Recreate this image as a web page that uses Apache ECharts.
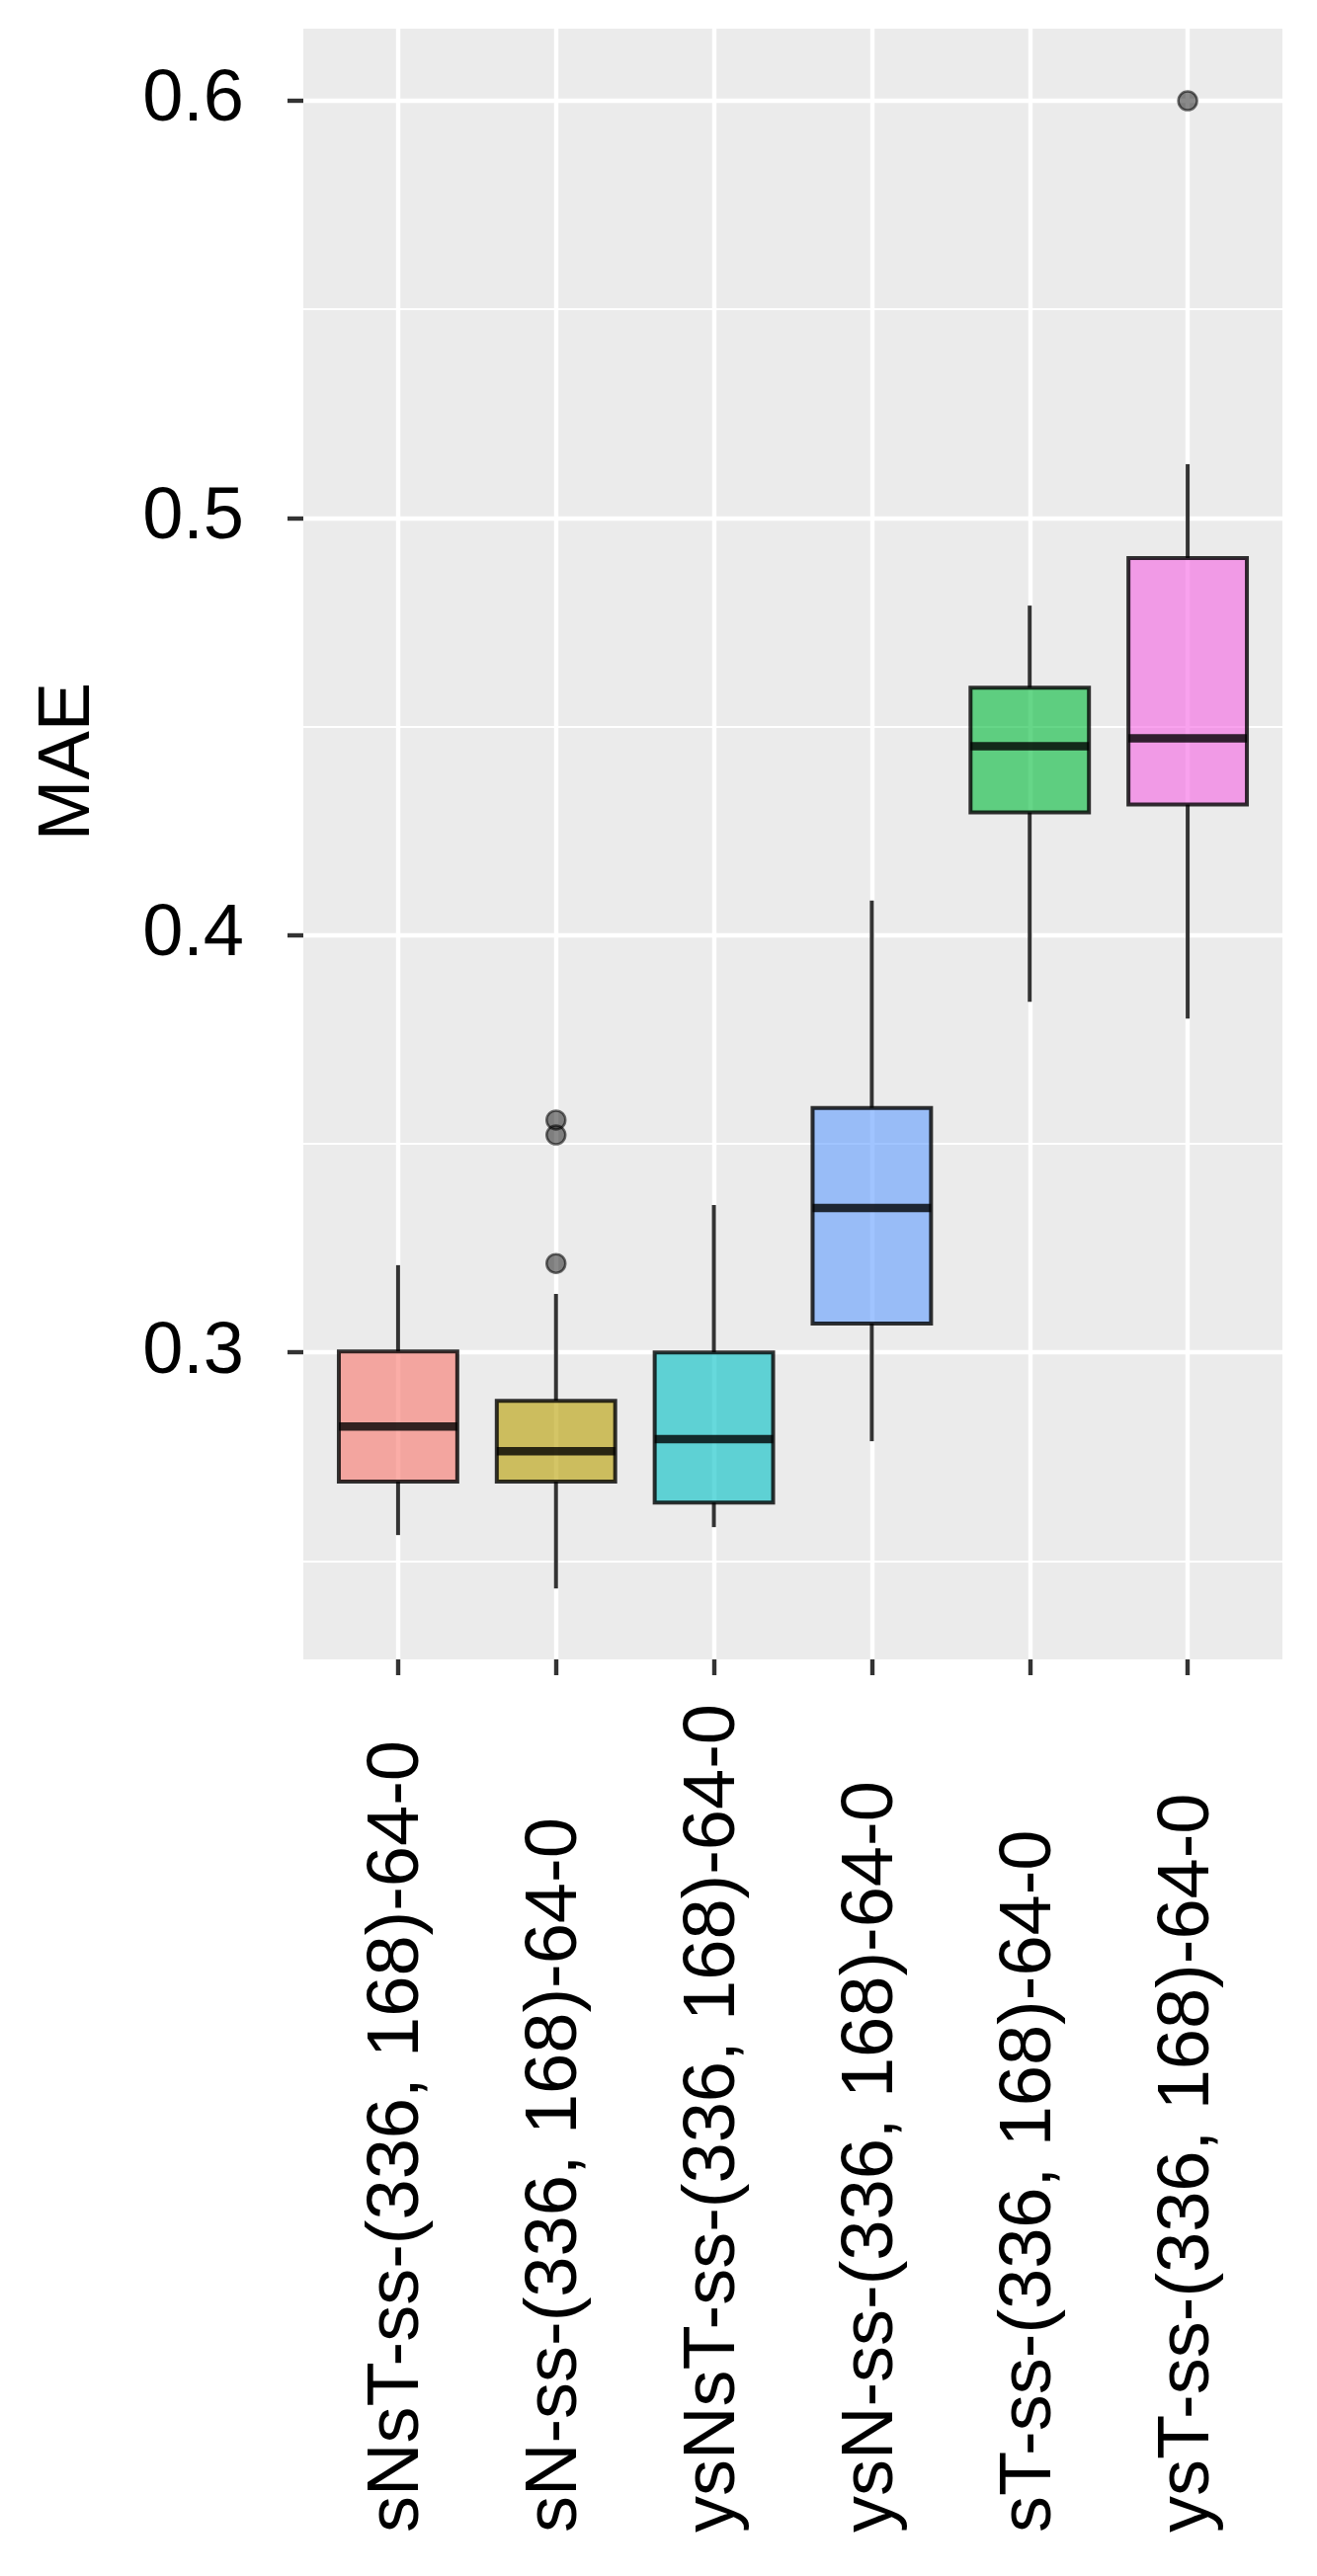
<!DOCTYPE html>
<html>
<head>
<meta charset="utf-8">
<script src="https://cdn.jsdelivr.net/npm/echarts@6/dist/echarts.min.js"></script>
<style>
  html, body { margin: 0; padding: 0; background: #fff; }
  #chart { width: 1333px; height: 2608px; }
</style>
</head>
<body>
<div id="chart"></div>
<script>
// groups, left to right
var categories = [
  'sNsT-ss-(336, 168)-64-0',
  'sN-ss-(336, 168)-64-0',
  'ysNsT-ss-(336, 168)-64-0',
  'ysN-ss-(336, 168)-64-0',
  'sT-ss-(336, 168)-64-0',
  'ysT-ss-(336, 168)-64-0'
];

// box statistics
var whiskerLow  = [0.2562, 0.2434, 0.2581, 0.2787, 0.3840, 0.3800];
var quartile1   = [0.2690, 0.2690, 0.2640, 0.3069, 0.4294, 0.4313];
var medians     = [0.2822, 0.2763, 0.2792, 0.3346, 0.4453, 0.4472];
var quartile3   = [0.3002, 0.2884, 0.3000, 0.3586, 0.4593, 0.4904];
var whiskerHigh = [0.3209, 0.3140, 0.3353, 0.4083, 0.4790, 0.5129];

// outliers: group number (1-based) and value
var outlierGroup = [2, 2, 2, 6];
var outlierValue = [0.3557, 0.3521, 0.3213, 0.6000];

// axis ticks
var yMajor = [0.3, 0.4, 0.5, 0.6];
var yMinor = [0.25, 0.35, 0.45, 0.55];
var xTicks = [1, 2, 3, 4, 5, 6];

// ggplot hue colours in the order they were drawn
var fills = [
  'rgba(248,118,109,0.6)',
  'rgba(183,159,0,0.6)',
  'rgba(0,191,196,0.6)',
  'rgba(97,156,255,0.6)',
  'rgba(0,186,56,0.6)',
  'rgba(245,100,227,0.6)'
];

var FONT = "'Liberation Sans', Arial, sans-serif";
var LINE = 'rgba(0,0,0,0.8)';
var BOX_WIDTH = 0.75;

var boxData = categories.map(function (c, i) {
  return [i + 1, whiskerLow[i], quartile1[i], medians[i], quartile3[i], whiskerHigh[i]];
});
var outlierData = outlierGroup.map(function (g, i) {
  return [g, outlierValue[i]];
});

var chart = echarts.init(document.getElementById('chart'));

var option = {
  backgroundColor: '#fff',
  animation: false,
  grid: {
    left: 307, top: 29, width: 991, height: 1651,
    show: true, backgroundColor: '#EBEBEB', borderWidth: 0
  },
  graphic: [{
    type: 'text',
    x: 70, y: 771,
    rotation: Math.PI / 2,
    style: {
      text: 'MAE', x: 0, y: 0,
      align: 'center', verticalAlign: 'middle',
      font: '74px ' + FONT, fill: '#000'
    }
  }],
  xAxis: {
    type: 'value',
    min: 0.4, max: 6.6,
    axisLine: { show: false },
    axisTick: {
      show: true, length: 16, customValues: xTicks,
      lineStyle: { color: '#333', width: 4.4 }
    },
    axisLabel: {
      customValues: xTicks,
      rotate: 90,
      align: 'left',
      margin: 884,
      fontSize: 74,
      fontFamily: FONT,
      color: '#000',
      formatter: function (v) { return categories[Math.round(v) - 1]; }
    },
    splitLine: { show: true, lineStyle: { color: '#fff', width: 4.4 } }
  },
  yAxis: [{
    type: 'value',
    min: 0.2264, max: 0.6173,
    axisLine: { show: false },
    axisTick: {
      show: true, length: 16, customValues: yMajor,
      lineStyle: { color: '#333', width: 4.4 }
    },
    axisLabel: {
      customValues: yMajor,
      margin: 60,
      fontSize: 74,
      fontFamily: FONT,
      color: '#000',
      formatter: function (v) { return v.toFixed(1); }
    },
    splitLine: { show: true, lineStyle: { color: '#fff', width: 4.4 } }
  }, {
    type: 'value',
    position: 'left',
    min: 0.2264, max: 0.6173,
    axisLine: { show: false },
    axisTick: { show: false, customValues: yMinor },
    axisLabel: { show: false },
    splitLine: { show: true, lineStyle: { color: '#fff', width: 2.2 } }
  }],
  series: [{
    type: 'custom',
    yAxisIndex: 0,
    data: boxData,
    z: 3,
    renderItem: function (params, api) {
      var x = api.value(0);
      var lo = api.coord([x, api.value(1)]);
      var q1 = api.coord([x, api.value(2)]);
      var md = api.coord([x, api.value(3)]);
      var q3 = api.coord([x, api.value(4)]);
      var hi = api.coord([x, api.value(5)]);
      var half = api.size([BOX_WIDTH, 0])[0] / 2;
      return {
        type: 'group',
        children: [
          { type: 'line', shape: { x1: hi[0], y1: hi[1], x2: q3[0], y2: q3[1] },
            style: { stroke: LINE, lineWidth: 4 } },
          { type: 'line', shape: { x1: q1[0], y1: q1[1], x2: lo[0], y2: lo[1] },
            style: { stroke: LINE, lineWidth: 4 } },
          { type: 'rect', shape: { x: q3[0] - half, y: q3[1], width: half * 2, height: q1[1] - q3[1] },
            style: { fill: fills[params.dataIndex], stroke: LINE, lineWidth: 4 } },
          { type: 'line', shape: { x1: md[0] - half, y1: md[1], x2: md[0] + half, y2: md[1] },
            style: { stroke: LINE, lineWidth: 8.5 } }
        ]
      };
    }
  }, {
    type: 'scatter',
    yAxisIndex: 0,
    data: outlierData,
    symbol: 'circle',
    symbolSize: 19,
    z: 4,
    itemStyle: { color: 'rgba(0,0,0,0.58)', borderColor: 'rgba(0,0,0,0.7)', borderWidth: 2.5 }
  }]
};

chart.setOption(option);
</script>
</body>
</html>
